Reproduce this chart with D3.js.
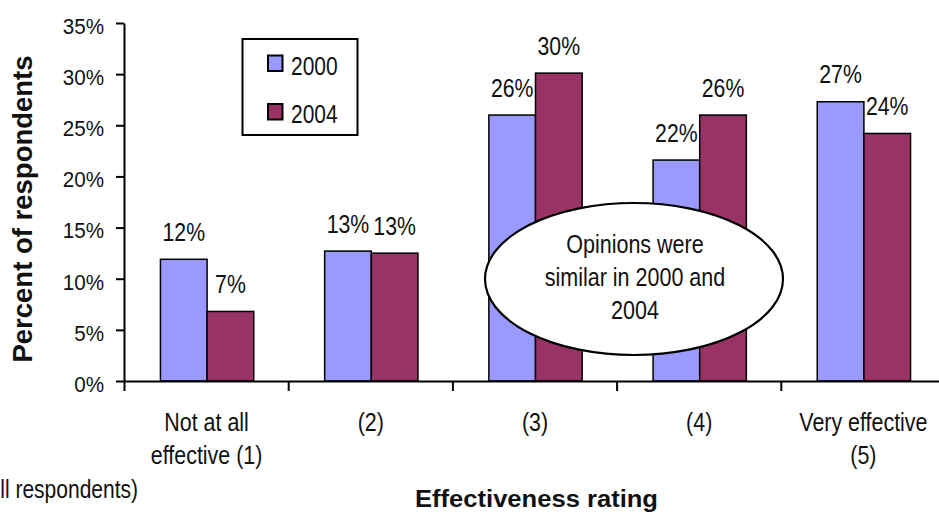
<!DOCTYPE html>
<html>
<head>
<meta charset="utf-8">
<script src="https://cdn.jsdelivr.net/npm/d3@7"></script>
<style>
  html, body { margin: 0; padding: 0; background: #fff; }
  svg { display: block; }
  text { font-family: "Liberation Sans", Arial, sans-serif; fill: #111; }
</style>
</head>
<body>
<svg id="chart" width="939" height="512"></svg>
<script>
// ---- data ----
const categories = ["c1", "c2", "c3", "c4", "c5"];
const categoryLabels = [["Not at all", "effective (1)"], ["(2)"], ["(3)"], ["(4)"], ["Very effective", "(5)"]];
const seriesNames = ["2000", "2004"];
const values2000 = [11.9, 12.7, 26.0, 21.6, 27.3];
const values2004 = [6.8, 12.5, 30.1, 26.0, 24.2];
const yTicks = [0, 5, 10, 15, 20, 25, 30, 35];
const seriesColors = ["#9999FF", "#993366"];
const calloutLines = ["Opinions were", "similar in 2000 and", "2004"];
const yTitle = "Percent of respondents";
const xTitle = "Effectiveness rating";
const footnote = "ll respondents)";

const series = [values2000, values2004];

const svg = d3.select("#chart");

function squeeze(sel, c) {
  sel.each(function () {
    const len = this.getComputedTextLength();
    d3.select(this).attr("textLength", len * c).attr("lengthAdjust", "spacingAndGlyphs");
  });
  return sel;
}

// ---- scales ----
const plotLeft = 124, plotTop = 23, plotBottom = 381, bandStep = 164.2;
const y = d3.scaleLinear().domain([0, 35]).range([plotBottom, plotTop]);
const x0 = d3.scaleBand().domain(categories).range([plotLeft, plotLeft + bandStep * categories.length]).padding(0);
const x1 = d3.scaleBand().domain(seriesNames).range([0, x0.bandwidth()]).paddingInner(0).paddingOuter(0.76);
const xEdge = d3.scaleLinear().domain([0, categories.length]).range([plotLeft, plotLeft + bandStep * categories.length]);

// ---- bars ----
const groups = svg.append("g").selectAll("g")
  .data(categories)
  .join("g")
  .attr("transform", d => `translate(${x0(d)},0)`);

groups.selectAll("rect")
  .data((d, i) => seriesNames.map((s, j) => ({ s, j, v: series[j][i] })))
  .join("rect")
  .attr("x", d => x1(d.s) + 1)
  .attr("y", d => y(d.v))
  .attr("width", x1.bandwidth())
  .attr("height", d => y(0) - y(d.v))
  .attr("fill", d => seriesColors[d.j])
  .attr("stroke", "#000")
  .attr("stroke-width", 1.5);

// ---- data labels ----
groups.selectAll("text.val")
  .data((d, i) => seriesNames.map((s, j) => ({ s, j, v: series[j][i] })))
  .join("text")
  .attr("class", "val")
  .attr("x", d => x1(d.s) + 1 + x1.bandwidth() / 2)
  .attr("y", d => y(d.v) - 18.5)
  .attr("text-anchor", "middle")
  .attr("font-size", 25)
  .text(d => Math.round(d.v) + "%")
  .call(squeeze, 0.85);

// ---- axes ----
const yAxis = d3.axisLeft(y)
  .tickValues(yTicks)
  .tickFormat(d => d + "%")
  .tickSize(8)
  .tickSizeOuter(0)
  .tickPadding(12);

const gy = svg.append("g").attr("transform", `translate(${plotLeft},0)`).call(yAxis);
gy.select(".domain").attr("stroke", "#000").attr("stroke-width", 2);
gy.selectAll(".tick line").attr("stroke", "#000").attr("stroke-width", 2);
gy.selectAll(".tick text")
  .attr("font-size", 21.5)
  .attr("font-family", "Liberation Sans, Arial, sans-serif")
  .attr("fill", "#111")
  .attr("dy", "10.3px")
  .call(squeeze, 0.96);

const xAxis = d3.axisBottom(xEdge)
  .tickValues(d3.range(categories.length + 1))
  .tickFormat("")
  .tickSize(10)
  .tickSizeOuter(0);
const gx = svg.append("g").attr("transform", `translate(0,${plotBottom})`).call(xAxis);
gx.select(".domain").attr("stroke", "#000").attr("stroke-width", 2);
gx.selectAll(".tick line").attr("stroke", "#000").attr("stroke-width", 2);

// ---- category labels ----
const catG = svg.append("g");
categories.forEach((c, i) => {
  categoryLabels[i].forEach((line, k) => {
    catG.append("text")
      .attr("x", x0(c) + x0.bandwidth() / 2 + 0.5)
      .attr("y", 431 + k * 33)
      .attr("text-anchor", "middle")
      .attr("font-size", 25.5)
      .text(line)
      .call(squeeze, 0.84);
  });
});

// ---- axis titles ----
svg.append("text")
  .attr("transform", "translate(31.7,209) rotate(-90)")
  .attr("text-anchor", "middle")
  .attr("font-size", 27.5)
  .attr("font-weight", "bold")
  .attr("fill", "#000")
  .text(yTitle);

svg.append("text")
  .attr("x", 536.5)
  .attr("y", 506.5)
  .attr("text-anchor", "middle")
  .attr("font-size", 23.5)
  .attr("font-weight", "bold")
  .attr("fill", "#000")
  .attr("textLength", 243)
  .attr("lengthAdjust", "spacingAndGlyphs")
  .text(xTitle);

// ---- footnote (clipped at left edge) ----
svg.append("text")
  .attr("x", 138)
  .attr("y", 498)
  .attr("text-anchor", "end")
  .attr("font-size", 25)
  .text(footnote)
  .call(squeeze, 0.84);

// ---- legend ----
const lg = svg.append("g");
lg.append("rect")
  .attr("x", 242.5).attr("y", 39).attr("width", 115).attr("height", 96)
  .attr("fill", "#fff").attr("stroke", "#000").attr("stroke-width", 2);
seriesNames.forEach((s, j) => {
  lg.append("rect")
    .attr("x", 268).attr("y", 55.5 + j * 48.5).attr("width", 14.5).attr("height", 15.5)
    .attr("fill", seriesColors[j]).attr("stroke", "#000").attr("stroke-width", 2);
  lg.append("text")
    .attr("x", 291).attr("y", 75 + j * 48.3)
    .attr("font-size", 25)
    .text(s)
    .call(squeeze, 0.84);
});

// ---- callout ellipse ----
const cg = svg.append("g");
cg.append("ellipse")
  .attr("cx", 634).attr("cy", 279).attr("rx", 149).attr("ry", 76)
  .attr("fill", "#fff").attr("stroke", "#000").attr("stroke-width", 2.2);
calloutLines.forEach((line, k) => {
  cg.append("text")
    .attr("x", 635).attr("y", 252.7 + k * 33)
    .attr("text-anchor", "middle")
    .attr("font-size", 25)
    .text(line)
    .call(squeeze, 0.86);
});
</script>
</body>
</html>
